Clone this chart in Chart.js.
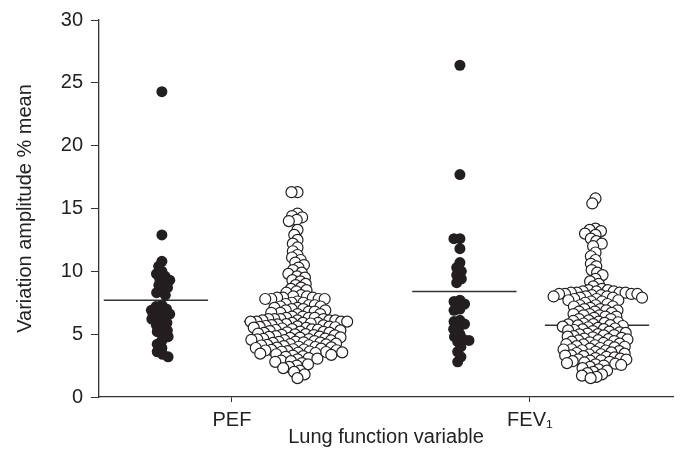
<!DOCTYPE html>
<html>
<head>
<meta charset="utf-8">
<script src="https://cdn.jsdelivr.net/npm/chart.js@4.4.1/dist/chart.umd.min.js"></script>
<style>
  body { margin: 0; background: #fff; }
  #wrap { width: 680px; height: 460px; }
</style>
</head>
<body>
<div id="wrap"><canvas id="chart"></canvas></div>
<script>
const categories = ["PEF", "FEV\u2081"];
const yTicks = [0, 5, 10, 15, 20, 25, 30];

// values (% of mean)
const pefFilled = [24.3, 12.9, 10.8, 10.4, 10.0, 9.8, 9.6, 9.4, 9.3, 9.1, 8.9, 8.7, 8.5, 8.3, 8.1,
  7.3, 7.2, 7.0, 6.9, 6.8, 6.6, 6.5, 6.4, 6.2, 6.0, 5.9, 5.7, 5.5, 5.3, 5.2, 5.0, 4.8, 4.5, 4.2,
  3.9, 3.6, 3.4, 3.2];

const pefOpen = [16.3, 16.3,
  14.6, 14.4, 14.3, 14.1, 14.0,
  13.3, 12.9, 12.5, 12.2, 11.9, 11.6, 11.3, 11.1, 10.9, 10.7, 10.5, 10.3, 10.1,
  9.9, 9.8, 9.6, 9.5, 9.3, 9.2, 9.0, 8.9, 8.7, 8.6, 8.5, 8.4, 8.3,
  8.1, 8.0, 8.0, 7.9, 7.9, 7.9, 7.8, 7.8, 7.8, 7.8,
  7.6, 7.5, 7.5, 7.4, 7.3, 7.3, 7.2, 7.2, 7.1, 7.1, 7.0, 7.0, 6.9, 6.9, 6.8, 6.8, 6.7, 6.7, 6.6, 6.6,
  6.4, 6.4, 6.3, 6.3, 6.3, 6.2, 6.2, 6.2, 6.1, 6.1, 6.1, 6.0, 6.0, 6.0, 6.0, 5.9, 5.9, 5.9, 6.2, 6.1,
  5.85, 5.8, 5.78, 5.72, 5.7, 5.65, 5.62, 5.6, 5.58, 5.55, 5.52, 5.5, 5.45, 5.4, 5.38, 5.35, 5.33,
  5.3, 5.25, 5.2, 5.18, 5.15, 5.12, 5.1, 5.05, 5.0, 4.98, 4.95, 4.93, 4.9, 4.85, 4.8, 4.78, 4.75,
  4.72, 4.7, 4.65, 4.62, 4.6, 4.58, 4.55, 4.52, 4.5, 4.45, 4.4, 4.38, 4.35, 4.33, 4.3, 4.25, 4.2,
  4.18, 4.15, 4.12, 4.1, 4.05, 4.0, 3.98, 3.95, 3.93, 3.9, 3.85, 3.8, 3.78, 3.75, 3.72, 3.7, 3.65,
  3.62, 3.6, 3.58, 3.55, 3.52, 3.5,
  3.45, 3.4, 3.35, 3.3, 3.25, 3.2, 3.1, 3.05, 3.0, 2.9, 2.85, 2.8, 2.7, 2.6, 2.5, 2.4, 2.3, 2.1,
  2.0, 1.8, 1.5];

const fevFilled = [26.4, 17.7, 12.6, 12.6, 11.8, 10.7, 10.3, 10.0, 9.7, 9.4, 9.1,
  7.7, 7.6, 7.4, 7.0, 6.9, 6.1, 6.0, 5.8, 5.6, 5.4, 5.0, 4.8, 4.6, 4.5, 4.4, 4.0, 3.6, 3.2, 2.8];

const fevOpen = [15.8, 15.4,
  13.4, 13.3, 13.2, 13.0, 12.9, 12.6, 12.4, 12.2, 12.0,
  11.5, 11.2, 10.9, 10.6, 10.4, 10.1, 9.9, 9.7, 9.4, 9.2, 9.0, 8.8,
  8.6, 8.5, 8.5, 8.4, 8.4, 8.4, 8.3, 8.3, 8.3, 8.3, 8.2, 8.2, 8.2, 8.2, 8.1, 8.1, 8.0, 8.0, 8.0,
  7.9, 7.9, 7.9, 7.8, 7.8, 7.7, 7.7, 7.6, 7.6,
  7.5, 7.4, 7.3, 7.3, 7.2, 7.2, 7.1, 7.0, 7.0, 6.9, 6.9, 6.8, 6.8, 6.7, 6.6, 6.6, 6.5, 6.5, 6.4,
  6.4, 6.3, 6.2, 6.2,
  6.1, 6.05, 6.0, 5.95, 5.9, 5.85, 5.8, 5.78, 5.72, 5.7, 5.65, 5.6, 5.55, 5.5, 5.45, 5.4, 5.38,
  5.33, 5.3, 5.25, 5.2, 5.15, 5.1, 5.05, 5.0, 4.98, 4.93, 4.9, 4.85, 4.8, 4.75, 4.7, 4.65, 4.6,
  4.58, 4.52, 4.5, 4.45, 4.4, 4.35, 4.3, 4.25, 4.2, 4.18, 4.12, 4.1, 4.05, 4.0, 3.95, 3.9, 3.85,
  3.8, 3.78, 3.72, 3.7, 3.65, 3.6, 3.55, 3.5, 3.45, 3.4, 3.38, 3.32, 3.3, 3.25, 3.2, 3.15, 3.1,
  3.05, 3.0, 2.98, 2.92, 2.9, 2.85, 2.8, 2.75, 2.7, 2.65, 2.6, 2.55, 2.5,
  2.4, 2.3, 2.2, 2.1, 2.0, 1.9, 1.8, 1.7, 1.6, 1.5];

// group means (horizontal bars)
const means = [7.7, 6.0, 8.4, 5.7];

// group centres on the x scale (PEF = 1, FEV1 = 2)
const centres = [0.765, 1.22, 1.765, 2.22];
const meanCentres = [0.745, 1.215, 1.78, 2.225];
const X_MIN = 0.554, X_MAX = 2.48;
const PX_PER_X = 574 / (X_MAX - X_MIN);
const PX_PER_Y = 380 / 30;
const GAP = 6;
const MEAN_HALF = 0.175;

// simple beeswarm: each point goes to the free spot nearest the centre
function swarm(values, centre) {
  const placed = [];
  values.slice().sort((a, b) => b - a).forEach(v => {
    const y = v * PX_PER_Y;
    const blocked = [];
    placed.forEach(p => {
      const dy = Math.abs(p.y - y);
      if (dy < GAP) {
        const w = Math.sqrt(GAP * GAP - dy * dy);
        blocked.push([p.x - w, p.x + w]);
      }
    });
    const cands = [0];
    blocked.forEach(b => cands.push(b[0], b[1]));
    cands.sort((a, b) => Math.abs(a) - Math.abs(b));
    const x = cands.find(c => blocked.every(b => c <= b[0] + 1e-6 || c >= b[1] - 1e-6));
    placed.push({ x, y });
  });
  return placed.map(p => ({ x: centre + p.x / PX_PER_X, y: p.y / PX_PER_Y }));
}

const ink = "#231f20";
const groups = [pefFilled, pefOpen, fevFilled, fevOpen];

const pointSets = groups.map((vals, i) => {
  const filled = i % 2 === 0;
  return {
    type: "scatter",
    data: swarm(vals, centres[i]),
    pointRadius: 5.5,
    pointBackgroundColor: filled ? ink : "#fff",
    pointBorderColor: ink,
    pointBorderWidth: filled ? 0 : 1.2,
    order: 0,
  };
});

const meanSets = means.map((m, i) => ({
  type: "line",
  data: [{ x: meanCentres[i] - MEAN_HALF, y: m }, { x: meanCentres[i] + MEAN_HALF, y: m }],
  borderColor: "#333",
  borderWidth: 1.5,
  pointRadius: 0,
  order: 1,
}));

const font = { family: "'Liberation Sans', Arial, sans-serif", size: 20 };

new Chart(document.getElementById("chart"), {
  type: "scatter",
  data: { datasets: [...pointSets, ...meanSets] },
  options: {
    responsive: true,
    maintainAspectRatio: false,
    animation: false,
    events: [],
    layout: { padding: { left: 0, top: 17, right: 7, bottom: 0 } },
    plugins: { legend: { display: false }, tooltip: { enabled: false } },
    scales: {
      x: {
        type: "linear",
        min: X_MIN,
        max: X_MAX,
        afterBuildTicks: s => { s.ticks = categories.map((c, i) => ({ value: i + 1 })); },
        afterFit: s => { s.height = 63; },
        ticks: {
          color: "#222",
          font: font,
          padding: 6,
          maxRotation: 0,
          callback: v => categories[v - 1],
        },
        grid: { display: true, drawOnChartArea: false, drawTicks: true, tickLength: 5, color: "#333" },
        border: { display: true, color: "#333", width: 1.3 },
        title: {
          display: true,
          text: "Lung function variable",
          color: "#222",
          font: font,
          padding: { top: 0, bottom: 11 },
        },
      },
      y: {
        min: 0,
        max: 30,
        afterBuildTicks: s => { s.ticks = yTicks.map(v => ({ value: v })); },
        afterFit: s => { s.width = 99; },
        ticks: { color: "#222", font: font, padding: 8 },
        grid: { display: true, drawOnChartArea: false, drawTicks: true, tickLength: 8, color: "#333" },
        border: { display: true, color: "#333", width: 1.3 },
        title: {
          display: true,
          text: "Variation amplitude % mean",
          color: "#222",
          font: font,
          padding: { top: 13, bottom: 0 },
        },
      },
    },
  },
});
</script>
</body>
</html>
